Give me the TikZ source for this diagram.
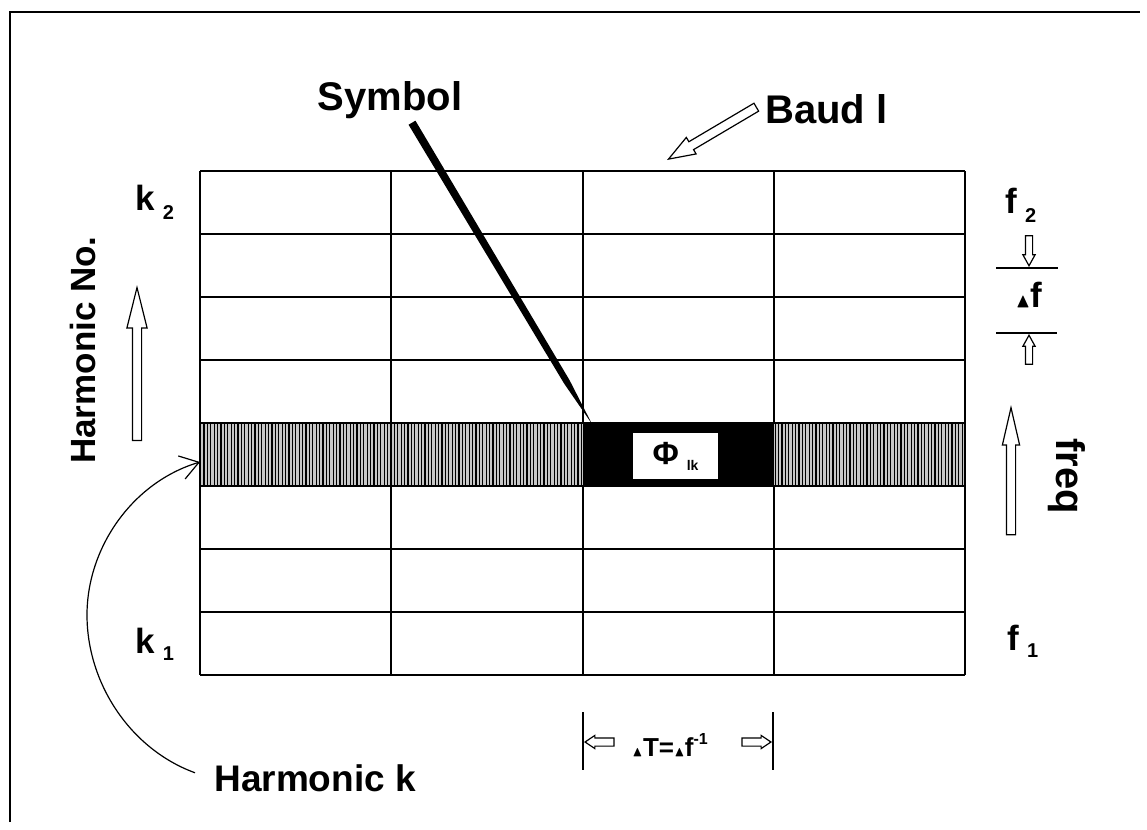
\documentclass[tikz,border=0pt]{standalone}
\usepackage{amsmath, amssymb}
\usepackage{fontspec}
\setmainfont{Liberation Sans}
\usetikzlibrary{shapes.arrows, arrows.meta, calc, patterns.meta}
\newcommand{\deltri}[1]{{\fontsize{#1}{#1}\selectfont$\blacktriangle$}}
\newcommand{\lowidx}[2]{\kern4pt\raisebox{-#1}{\fontsize{10}{10}\selectfont #2}}

\begin{document}
\begin{tikzpicture}[x=0.5pt, y=-0.5pt,
        gline/.style={line width=0.8pt},
        hollow/.style={single arrow, draw, fill=white, line width=0.6pt, inner sep=0pt, text depth=0pt, single arrow head indent=0pt, anchor=tip},
        bigtxt/.style={font=\bfseries\fontsize{20}{20}\selectfont, inner sep=1pt},
        midtxt/.style={font=\bfseries\fontsize{17.5}{17.5}\selectfont, inner sep=1pt}
    ]
    \useasboundingbox (0,0) rectangle (1147,830);

    % frame
    \draw[line width=1.4pt] (10,822) -- (10,12) -- (1140,12);

    % grid
    \foreach \y in {171,234,297,360,423,486,549,612,675}
        \draw[gline] (200,\y) -- (965,\y);
    \foreach \x in {200,391,583,774,965}
        \draw[gline] (\x,171) -- (\x,675);

    % harmonic k row
    \fill[gray!45] (200,423) rectangle (965,486);
    \fill[pattern={Lines[angle=90,distance=1.7pt,line width=0.6pt]}] (200,423) rectangle (965,486);
    \fill (583,423) rectangle (774,486);
    \draw[gline] (200,423) rectangle (965,486);
    \coordinate (blk) at (583,423);
    \coordinate (bandw) at (200,462);
    \node[fill=white, minimum width=42.5pt, minimum height=23pt, inner sep=0pt, font=\bfseries\fontsize{16}{16}\selectfont] (phi) at (675.5,456) {Φ\kern4pt\raisebox{-3pt}{\fontsize{7}{7}\selectfont lk}};

    % labels
    \node[bigtxt, anchor=base] (sym) at (390,110) {Symbol};
    \node[bigtxt, anchor=base west] (baud) at (763,123) {Baud l};
    \node[font=\bfseries\fontsize{18.5}{18.5}\selectfont, inner sep=1pt, anchor=base west] (harmk) at (212,791) {Harmonic k};
    \node[midtxt, rotate=90] (harmno) at (83,350) {Harmonic No.};
    \node[bigtxt, rotate=-90] (freq) at (1067,476) {freq};
    \node[midtxt, anchor=base west] (k2) at (133,210) {k\lowidx{4.5pt}{2}};
    \node[midtxt, anchor=base west] (k1) at (133,653) {k\lowidx{3.5pt}{1}};
    \node[midtxt, anchor=base west] (f2) at (1003,213) {f\lowidx{4.5pt}{2}};
    \node[midtxt, anchor=base west] (f1) at (1005,650) {f\lowidx{3.5pt}{1}};
    \node[midtxt, anchor=base] (df) at (1029,307) {\deltri{10}f};
    \node[font=\bfseries\fontsize{13}{13}\selectfont] (dT) at (670,745) {\deltri{7}T=\deltri{7}f\raisebox{0.9ex}{\fontsize{8}{8}\selectfont -1}};

    % symbol pointer
    \coordinate (symtail) at ([shift={(22,2)}]sym.south);
    \coordinate (symtip) at ([shift={(9,1)}]blk);
    \coordinate (symmid) at ($(symtail)!0.86!(symtip)$);
    \fill ($(symtail)!2pt!90:(symtip)$) -- ($(symmid)!1.6pt!90:(symtip)$) -- (symtip)
        -- ($(symmid)!1.6pt!-90:(symtip)$) -- ($(symtail)!2pt!-90:(symtip)$) -- cycle;

    % hollow arrows
    \node[hollow, text height=4pt, minimum height=76.5pt, minimum width=9.5pt, single arrow head extend=2.75pt, single arrow tip angle=28, rotate=90] (harmup) at (137,285) {};
    \node[hollow, text height=4pt, minimum height=63.5pt, minimum width=8pt, single arrow head extend=2pt, single arrow tip angle=26, rotate=90] (frequp) at (1011,405) {};
    \node[hollow, text height=4pt, minimum height=51pt, minimum width=9pt, single arrow head extend=2.5pt, single arrow tip angle=40, rotate=210.6] (baudarr) at (667,160) {};

    % delta f marks
    \coordinate (dfa1) at (996,268);
    \coordinate (dfa2) at (1058,268);
    \coordinate (dfb1) at (996,333);
    \coordinate (dfb2) at (1057,333);
    \draw[gline] (dfa1) -- (dfa2);
    \draw[gline] (dfb1) -- (dfb2);
    \node[hollow, text height=3pt, minimum height=15pt, minimum width=5.5pt, single arrow head extend=1.25pt, single arrow tip angle=58, rotate=-90] (dfdown) at (1029,267) {};
    \node[hollow, text height=3pt, minimum height=14.5pt, minimum width=5.5pt, single arrow head extend=1.25pt, single arrow tip angle=58, rotate=90] (dfup) at (1029,334) {};

    % delta T marks
    \coordinate (dta1) at (583,712);
    \coordinate (dta2) at (583,770);
    \coordinate (dtb1) at (773,712);
    \coordinate (dtb2) at (773,770);
    \draw[gline] (dta1) -- (dta2);
    \draw[gline] (dtb1) -- (dtb2);
    \node[hollow, text height=3.5pt, minimum height=14.5pt, minimum width=6pt, single arrow head extend=1.25pt, single arrow tip angle=68, rotate=180] (dtleft) at (584,742) {};
    \node[hollow, text height=3.5pt, minimum height=14.5pt, minimum width=6pt, single arrow head extend=1.25pt, single arrow tip angle=68] (dtright) at (772,742) {};

    % harmonic k pointer
    \coordinate (hkstart) at ([shift={(-17,-5)}]harmk.west);
    \draw[line width=0.6pt, -{Straight Barb[length=9pt, width=12pt]}] (hkstart)
        .. controls (130,749) and (87,683) .. (87,615)
        .. controls (87,547) and (133,482) .. (bandw);
\end{tikzpicture}
\end{document}
